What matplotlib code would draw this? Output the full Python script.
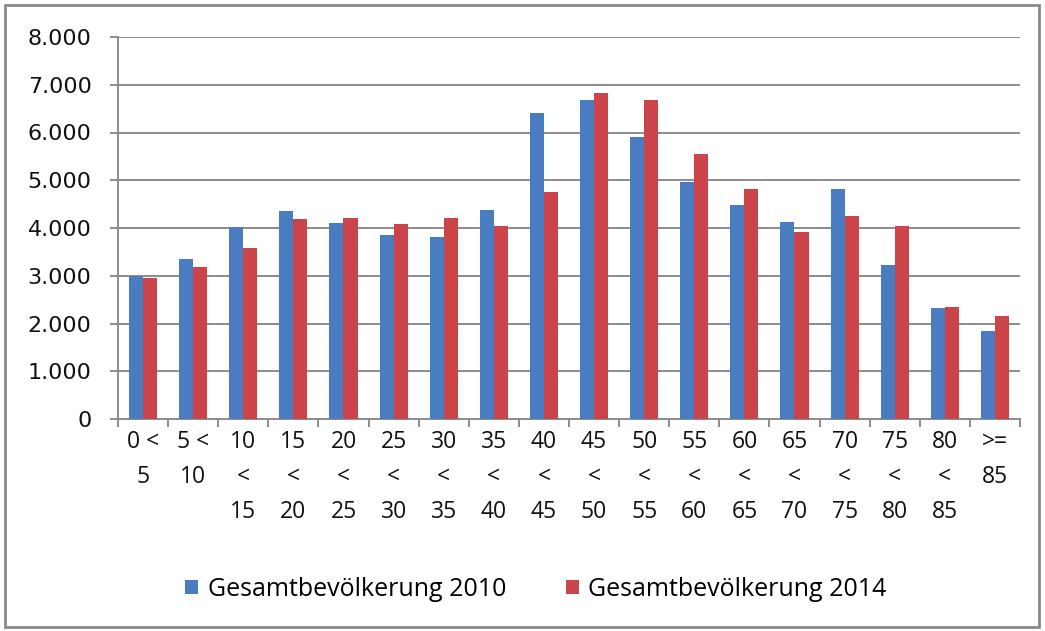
import numpy as np
import matplotlib

matplotlib.use("Agg")
import matplotlib.pyplot as plt
from matplotlib.patches import Patch, Rectangle
from matplotlib.ticker import FuncFormatter, MultipleLocator


categories = [
    "0 <\n5", "5 <\n10", "10\n<\n15", "15\n<\n20", "20\n<\n25", "25\n<\n30",
    "30\n<\n35", "35\n<\n40", "40\n<\n45", "45\n<\n50", "50\n<\n55", "55\n<\n60",
    "60\n<\n65", "65\n<\n70", "70\n<\n75", "75\n<\n80", "80\n<\n85", ">=\n85",
]
pop_2010 = [3000, 3350, 4020, 4360, 4115, 3860, 3820, 4375, 6410, 6690,
            5900, 4960, 4475, 4130, 4820, 3220, 2320, 1840]
pop_2014 = [2950, 3180, 3590, 4180, 4210, 4090, 4200, 4050, 4760, 6820,
            6690, 5560, 4815, 3920, 4250, 4040, 2350, 2160]
series_names = ["Gesamtbevölkerung 2010", "Gesamtbevölkerung 2014"]

blue = "#4A7CC2"
red = "#CB4449"
grid_col = "#8C8C8C"
label_font = "Open Sans"

fig = plt.figure(figsize=(10.45, 6.31), dpi=100)
ax = fig.add_axes([118 / 1045, 1 - 419 / 631, (1020 - 118) / 1045, (419 - 37) / 631])

x = np.arange(len(categories))
w = 0.28
ax.bar(x - w / 2, pop_2010, w, color=blue, zorder=3)
ax.bar(x + w / 2, pop_2014, w, color=red, zorder=3)

ax.set_xlim(-0.5, len(categories) - 0.5)
ax.set_ylim(0, 8000)
ax.yaxis.set_major_locator(MultipleLocator(1000))
ax.yaxis.set_major_formatter(FuncFormatter(lambda v, p: f"{int(v):,}".replace(",", ".")))
ax.grid(axis="y", color=grid_col, linewidth=1.4, zorder=0)

for s in ["top", "right"]:
    ax.spines[s].set_visible(False)
for s in ["left", "bottom"]:
    ax.spines[s].set_color(grid_col)
    ax.spines[s].set_linewidth(1.4)

ax.tick_params(axis="y", length=6, width=1.4, color=grid_col, pad=13,
               labelsize=16, labelcolor="#111111")

ax.set_xticks(x)
ax.set_xticklabels(categories, fontsize=16.5, family=label_font, linespacing=1.62,
                   color="#111111")
ax.set_xticks(np.arange(-0.5, len(categories)), minor=True)
ax.tick_params(axis="x", which="major", length=0, pad=8)
ax.tick_params(axis="x", which="minor", length=6, width=1.4, color=grid_col)

handles = [Patch(facecolor=blue), Patch(facecolor=red)]
fig.legend(handles, series_names, loc="center", bbox_to_anchor=(536 / 1045, 1 - 589 / 631),
           ncol=2, frameon=False, prop={"family": label_font, "size": 18},
           handlelength=0.5, handleheight=0.5, handletextpad=0.4, columnspacing=2.4)

fig.patches.append(Rectangle((5 / 1045, 4 / 631), 1034 / 1045, 622 / 631,
                             transform=fig.transFigure, fill=False,
                             edgecolor="#8A8A8A", linewidth=2))

fig.savefig("out.png", dpi=100)
